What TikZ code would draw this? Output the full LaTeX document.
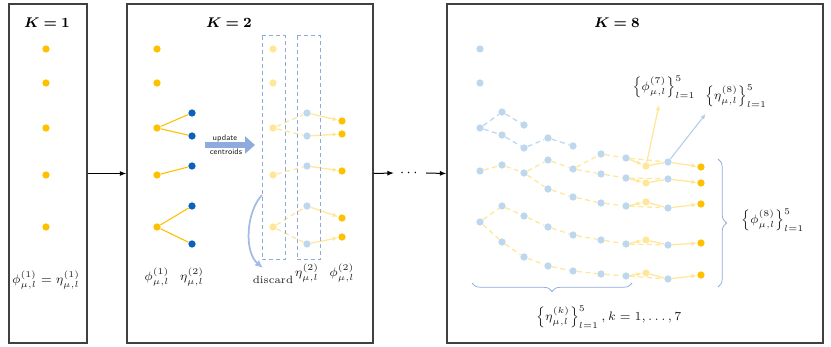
\documentclass[tikz,border=0pt]{standalone}
\usepackage{amsmath, amsfonts, bm}
\usetikzlibrary{arrows.meta, decorations.pathreplacing}

\begin{document}
\begin{tikzpicture}[x=0.02cm, y=-0.02cm, font=\fontsize{6.6}{8}\selectfont]

\definecolor{gold_color}{RGB}{255,192,0}
\definecolor{pale_color}{RGB}{255,230,153}
\definecolor{deep_color}{RGB}{10,98,186}
\definecolor{light_color}{RGB}{189,215,238}
\definecolor{edge_color}{RGB}{143,170,220}
\definecolor{frame_color}{RGB}{64,64,64}
\definecolor{blocktext}{RGB}{30,30,30}

\tikzset{
  pt/.style={circle, inner sep=0pt, minimum size=0.145cm, fill=#1},
  panel/.style={draw=frame_color, line width=0.028cm, minimum height=6.78cm},
  ar/.style={-{Latex[length=1.3mm, width=1mm]}, line width=0.02cm, draw=black},
  wire/.style={line width=0.022cm, draw=gold_color},
  pale_wire/.style={line width=0.025cm, draw=pale_color},
  pale_ar/.style={-{Latex[length=1.1mm, width=0.9mm]}, line width=0.025cm, draw=pale_color},
  light_ar/.style={-{Latex[length=1.1mm, width=0.9mm]}, line width=0.022cm, draw=light_color!80!edge_color},
  dline/.style={line width=0.025cm, draw=pale_color, dash pattern=on 0.1cm off 0.07cm},
  bdline/.style={line width=0.025cm, draw=light_color, dash pattern=on 0.1cm off 0.07cm},
  dbox/.style={draw=edge_color, line width=0.02cm, dash pattern=on 0.08cm off 0.06cm},
  brc/.style={draw=edge_color, line width=0.015cm, decorate, decoration={brace, amplitude=0.17cm}},
  title/.style={text=black, font=\footnotesize},
  lab/.style={text=blocktext, align=center},
  tinysans/.style={text=blocktext, font=\fontsize{4.6}{5}\sffamily, inner sep=0pt},
}

\useasboundingbox (0,0) rectangle (831,347);

\node[panel, minimum width=1.56cm] (pa) at (48,173.5) {};
\node[panel, minimum width=4.92cm] (pb) at (250,173.5) {};
\node[panel, minimum width=7.52cm] (pc) at (635,173.5) {};
\node[font=\footnotesize] (dts) at (410,173) {$\cdots$};

\draw[ar] (pa.east) -- (pb.west);
\draw[ar] (pb.east) -- (dts.west);
\draw[ar] (dts.east) -- (pc.west);

\node[title] (ta) at (47,23) {$\bm{K = 1}$};
\node[title] (tb) at (229,23) {$\bm{K = 2}$};
\node[title] (tc) at (617,23) {$\bm{K = 8}$};

\foreach \y [count=\i] in {49,83,128,175,227}
  \node[pt=gold_color] (a\i) at (46,\y) {};
\node[lab] (la) at (46,280) {$\phi^{(1)}_{\mu,l} = \eta^{(1)}_{\mu,l}$};

\foreach \y [count=\i] in {49,83,128,175,227} {
  \node[pt=gold_color] (b\i) at (157,\y) {};
  \node[pt=pale_color] (bf\i) at (273,\y) {};
}
\foreach \y [count=\i] in {113,136,166,206,244} {
  \node[pt=deep_color] (be\i) at (192,\y) {};
  \node[pt=light_color] (bl\i) at (307,\y) {};
}
\foreach \y [count=\i] in {121,134,171,218,237}
  \node[pt=gold_color] (bo\i) at (342,\y) {};

\foreach \s/\t in {3/1, 3/2, 4/3, 5/4, 5/5} {
  \draw[wire] (b\s) -- (be\t);
  \draw[dline] (bf\s) -- (bl\t);
}
\foreach \i in {1,...,5}
  \draw[pale_ar] (bl\i) -- (bo\i);

\draw[dbox] (262,36) rectangle (285,260);
\draw[dbox] (297,36) rectangle (320,260);

\coordinate (upd_s) at (205,145);
\coordinate (upd_e) at (255,145);
\draw[-{Triangle[length=0.2cm, width=0.34cm]}, line width=0.12cm, draw=edge_color] (upd_s) -- (upd_e);
\node[tinysans] (lu) at (225,138) {update};
\node[tinysans] (lc) at (226,152) {centroids};

\node[lab] (lb1) at (157,277) {$\phi^{(1)}_{\mu,l}$};
\node[lab] (lb2) at (192,277) {$\eta^{(2)}_{\mu,l}$};
\node[lab, font=\fontsize{6}{7}\selectfont] (dc) at (273,280) {discard};
\node[lab] (lb3) at (307,273) {$\eta^{(2)}_{\mu,l}$};
\node[lab] (lb4) at (342,273) {$\phi^{(2)}_{\mu,l}$};

\coordinate (ds) at (262,195);
\coordinate (de) at (263,268);
\draw[-{Latex[length=1.6mm, width=1.4mm]}, line width=0.035cm, draw=edge_color!80] (ds) .. controls (246,212) and (244,252) .. (de);

\foreach \x/\ys [count=\c] in {480/{49,83,128,171,222}, 502/{112,135,165,206,242}, 524/{125,148,173,216,257}, 548/{138,160,189,227,266}, 573/{146,169,197,235,271}, 601/{154,174,203,240,274}, 626/{158,178,206,244,276}}
  \foreach \y [count=\r] in \ys
    \node[pt=light_color] (c\c-\r) at (\x,\y) {};
\foreach \y [count=\r] in {166,183,202,240,273}
  \node[pt=pale_color] (c8-\r) at (646,\y) {};
\foreach \y [count=\r] in {162,179,208,245,279}
  \node[pt=light_color] (c9-\r) at (668,\y) {};
\foreach \y [count=\r] in {167,183,204,243,275}
  \node[pt=gold_color] (c10-\r) at (701,\y) {};

\foreach \s/\t in {1-3/2-1, 1-3/2-2, 2-1/3-1, 2-2/3-2, 3-2/4-1, 4-1/5-1}
  \draw[bdline] (c\s) -- (c\t);
\foreach \s/\t in {1-4/2-3, 2-3/3-3, 3-3/4-2, 3-3/4-3, 4-2/5-2, 5-2/6-1, 5-2/6-2, 6-1/7-1, 6-2/7-2, 4-3/5-3, 5-3/6-3, 6-3/7-3, 1-5/2-4, 1-5/2-5, 2-4/3-4, 3-4/4-4, 4-4/5-4, 5-4/6-4, 6-4/7-4, 2-5/3-5, 3-5/4-5, 4-5/5-5, 5-5/6-5, 6-5/7-5}
  \draw[dline] (c\s) -- (c\t);

\foreach \r in {1,...,5} {
  \draw[dline] (c7-\r) -- (c9-\r);
  \draw[pale_ar] (c7-\r) -- (c8-\r);
  \draw[pale_wire] (c8-\r) -- (c9-\r);
  \draw[pale_ar] (c9-\r) -- (c10-\r);
}

\node[lab] (lphi) at (664,87) {$\left\{\phi^{(7)}_{\mu,l}\right\}^5_{l=1}$};
\node[lab] (leta) at (736,96) {$\left\{\eta^{(8)}_{\mu,l}\right\}^5_{l=1}$};
\draw[pale_ar] (c8-1) -- ([xshift=-0.1cm]lphi.south);
\draw[light_ar] (c9-1) -- ([xshift=0.14cm]leta.south west);

\draw[brc] (718,159) -- (718,287);
\node[lab, anchor=west] (lphi8) at (735,220) {$\left\{\phi^{(8)}_{\mu,l}\right\}^5_{l=1}$};
\draw[brc] (632,283) -- (472,283);
\node[lab, anchor=west] (letak) at (530,317) {$\left\{\eta^{(k)}_{\mu,l}\right\}^5_{l=1}, k = 1, \ldots, 7$};

\end{tikzpicture}
\end{document}
